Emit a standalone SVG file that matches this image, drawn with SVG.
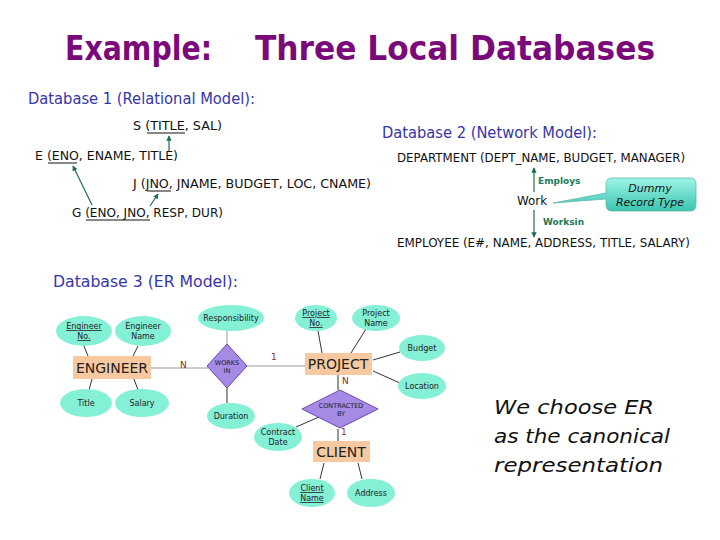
<svg xmlns="http://www.w3.org/2000/svg" width="720" height="540" viewBox="0 0 720 540">
<defs>
<style>
text{font-family:"DejaVu Sans","Liberation Sans",sans-serif;}
.title{fill:#7a0a7a;font-size:34px;font-weight:bold;}
.head{fill:#3636a8;font-size:16px;}
.rel{fill:#111;font-size:12px;}
.ul{stroke:#111;stroke-width:1;}
.arr{stroke:#1e6a5a;stroke-width:1.2;fill:none;}
.lab{fill:#1e7a5a;font-size:9px;font-weight:bold;}
.ell{fill:#84f0d6;}
.ent{fill:#f8c9a0;}
.rel3{fill:#a58ae6;stroke:#6a4aa8;stroke-width:1;}
.ln{stroke:#333;stroke-width:1;fill:none;}
.lnl{stroke:#999;stroke-width:1;fill:none;}
.at{fill:#222;font-size:8px;text-anchor:middle;}
.et{fill:#222;font-size:14px;text-anchor:middle;}
.card{fill:#8a2a2a;font-size:9px;}
.note{fill:#111;font-size:20px;font-style:italic;}
</style>
<marker id="ah" viewBox="0 0 8 8" refX="7" refY="4" markerWidth="4.5" markerHeight="4.5" orient="auto">
<path d="M0,0 L8,4 L0,8 z" fill="#1e6a5a"/>
</marker>
<linearGradient id="cg" x1="0" y1="0" x2="0" y2="1">
<stop offset="0" stop-color="#9ef5e6"/>
<stop offset="1" stop-color="#3cc4b0"/>
</linearGradient>
</defs>

<g id="title">
<text class="title" x="65" y="60" textLength="147" lengthAdjust="spacingAndGlyphs">Example:</text>
<text class="title" x="255" y="60" textLength="400" lengthAdjust="spacingAndGlyphs">Three Local Databases</text>
</g>

<g id="db1">
<text class="head" x="28" y="104" textLength="227" lengthAdjust="spacingAndGlyphs">Database 1 (Relational Model):</text>
<g id="relS"><text class="rel" x="133" y="130" textLength="89" lengthAdjust="spacingAndGlyphs">S (TITLE, SAL)</text><line class="ul" x1="147" y1="133" x2="185" y2="133"/></g>
<g id="relE"><text class="rel" x="35" y="160" textLength="143" lengthAdjust="spacingAndGlyphs">E (ENO, ENAME, TITLE)</text><line class="ul" x1="48" y1="163" x2="77" y2="163"/></g>
<g id="relJ"><text class="rel" x="133" y="188" textLength="238" lengthAdjust="spacingAndGlyphs">J (JNO, JNAME, BUDGET, LOC, CNAME)</text><line class="ul" x1="147" y1="191" x2="171" y2="191"/></g>
<g id="relG"><text class="rel" x="72" y="217" textLength="151" lengthAdjust="spacingAndGlyphs">G (ENO, JNO, RESP, DUR)</text><line class="ul" x1="86" y1="220" x2="150" y2="220"/></g>
</g>

<g id="db1-connectors">
<line class="arr" x1="169" y1="151" x2="169" y2="136" marker-end="url(#ah)"/>
<line class="arr" x1="92" y1="205" x2="73" y2="166" marker-end="url(#ah)"/>
<line class="arr" x1="150" y1="206" x2="158" y2="194" marker-end="url(#ah)"/>
</g>

<g id="db2">
<text class="head" x="382" y="138" textLength="215" lengthAdjust="spacingAndGlyphs">Database 2 (Network Model):</text>
<g id="dept"><text class="rel" x="397" y="162" textLength="288" lengthAdjust="spacingAndGlyphs">DEPARTMENT (DEPT_NAME, BUDGET, MANAGER)</text></g>
<g id="work"><text class="rel" x="517" y="205" textLength="30" lengthAdjust="spacingAndGlyphs">Work</text></g>
<g id="emp"><text class="rel" x="397" y="247" textLength="293" lengthAdjust="spacingAndGlyphs">EMPLOYEE (E#, NAME, ADDRESS, TITLE, SALARY)</text></g>
<g id="callout">
<path d="M612,178 H690 Q696,178 696,184 V205 Q696,211 690,211 H612 Q606,211 606,205 V199 L553,203 L606,193 V184 Q606,178 612,178 Z" fill="url(#cg)" stroke="#5fb8a8" stroke-width="0.8"/>
<text x="650" y="192" style="font-size:11px;font-style:italic;fill:#111;text-anchor:middle">Dummy</text>
<text x="650" y="206" style="font-size:11px;font-style:italic;fill:#111;text-anchor:middle">Record Type</text>
</g>
</g>

<g id="db2-connectors">
<line class="arr" x1="534" y1="192" x2="534" y2="168" marker-end="url(#ah)"/>
<line class="arr" x1="534" y1="210" x2="534" y2="237" marker-end="url(#ah)"/>
<text class="lab" x="538" y="184">Employs</text>
<text class="lab" x="543" y="225">Worksin</text>
</g>

<g id="db3">
<text class="head" x="53" y="287" textLength="185" lengthAdjust="spacingAndGlyphs">Database 3 (ER Model):</text>
</g>

<g id="er-connectors">
<line class="ln" x1="84" y1="346" x2="88" y2="356"/>
<line class="ln" x1="138" y1="346" x2="133" y2="356"/>
<line class="ln" x1="92" y1="379" x2="89" y2="390"/>
<line class="ln" x1="134" y1="379" x2="138" y2="390"/>
<line class="lnl" x1="151" y1="368" x2="208" y2="368"/>
<line class="lnl" x1="227" y1="331" x2="227" y2="345"/>
<line class="ln" x1="227" y1="388" x2="227" y2="403"/>
<line class="lnl" x1="247" y1="366" x2="305" y2="366"/>
<line class="ln" x1="318" y1="331" x2="322" y2="353"/>
<line class="ln" x1="366" y1="329" x2="351" y2="353"/>
<line class="ln" x1="373" y1="360" x2="400" y2="352"/>
<line class="ln" x1="373" y1="371" x2="400" y2="383"/>
<line class="ln" x1="338" y1="375" x2="338" y2="390"/>
<line class="ln" x1="296" y1="427" x2="319" y2="417"/>
<line class="ln" x1="338" y1="429" x2="338" y2="441"/>
<line class="ln" x1="324" y1="463" x2="320" y2="479"/>
<line class="ln" x1="358" y1="463" x2="362" y2="479"/>
<text class="card" x="180" y="368">N</text>
<text class="card" x="271" y="360">1</text>
<text class="card" x="342" y="384">N</text>
<text class="card" x="341" y="435">1</text>
</g>

<g id="engNo"><ellipse class="ell" cx="84" cy="331" rx="28" ry="15"/><text class="at" x="84" y="329" text-decoration="underline">Engineer</text><text class="at" x="84" y="339" text-decoration="underline">No.</text></g>
<g id="engName"><ellipse class="ell" cx="143" cy="331" rx="28" ry="15"/><text class="at" x="143" y="329">Engineer</text><text class="at" x="143" y="339">Name</text></g>
<g id="engineer"><rect class="ent" x="73" y="356" width="78" height="23"/><text class="et" x="112" y="373">ENGINEER</text></g>
<g id="title-attr"><ellipse class="ell" cx="86" cy="403" rx="26" ry="14"/><text class="at" x="86" y="406">Title</text></g>
<g id="salary"><ellipse class="ell" cx="142" cy="403" rx="27" ry="14"/><text class="at" x="142" y="406">Salary</text></g>
<g id="worksIn"><polygon class="rel3" points="227,344 247,366 227,388 207,366"/><text class="at" x="227" y="365" style="font-size:6.5px">WORKS</text><text class="at" x="227" y="373" style="font-size:6.5px">IN</text></g>
<g id="responsibility"><ellipse class="ell" cx="231" cy="318" rx="33" ry="13"/><text class="at" x="231" y="321">Responsibility</text></g>
<g id="duration"><ellipse class="ell" cx="231" cy="416" rx="24" ry="13"/><text class="at" x="231" y="419">Duration</text></g>
<g id="project"><rect class="ent" x="305" y="353" width="67" height="22"/><text class="et" x="338" y="369">PROJECT</text></g>
<g id="projNo"><ellipse class="ell" cx="316" cy="318" rx="21" ry="13"/><text class="at" x="316" y="316" text-decoration="underline">Project</text><text class="at" x="316" y="326" text-decoration="underline">No.</text></g>
<g id="projName"><ellipse class="ell" cx="376" cy="318" rx="24" ry="13"/><text class="at" x="376" y="316">Project</text><text class="at" x="376" y="326">Name</text></g>
<g id="budget"><ellipse class="ell" cx="422" cy="348" rx="23" ry="13"/><text class="at" x="422" y="351">Budget</text></g>
<g id="location"><ellipse class="ell" cx="422" cy="386" rx="24" ry="13"/><text class="at" x="422" y="389">Location</text></g>
<g id="contractedBy"><polygon class="rel3" points="340,390 378,409 340,428 302,409"/><text class="at" x="341" y="408" style="font-size:6.5px">CONTRACTED</text><text class="at" x="341" y="416" style="font-size:6.5px">BY</text></g>
<g id="contractDate"><ellipse class="ell" cx="278" cy="437" rx="24" ry="14"/><text class="at" x="278" y="435">Contract</text><text class="at" x="278" y="445">Date</text></g>
<g id="client"><rect class="ent" x="313" y="441" width="57" height="21"/><text class="et" x="341" y="457">CLIENT</text></g>
<g id="clientName"><ellipse class="ell" cx="312" cy="493" rx="23" ry="14"/><text class="at" x="312" y="491" text-decoration="underline">Client</text><text class="at" x="312" y="501" text-decoration="underline">Name</text></g>
<g id="address"><ellipse class="ell" cx="371" cy="493" rx="24" ry="14"/><text class="at" x="371" y="496">Address</text></g>

<g id="note">
<text class="note" x="494" y="414" textLength="160" lengthAdjust="spacingAndGlyphs">We choose ER</text>
<text class="note" x="494" y="443" textLength="176" lengthAdjust="spacingAndGlyphs">as the canonical</text>
<text class="note" x="494" y="472" textLength="169" lengthAdjust="spacingAndGlyphs">representation</text>
</g>
</svg>
